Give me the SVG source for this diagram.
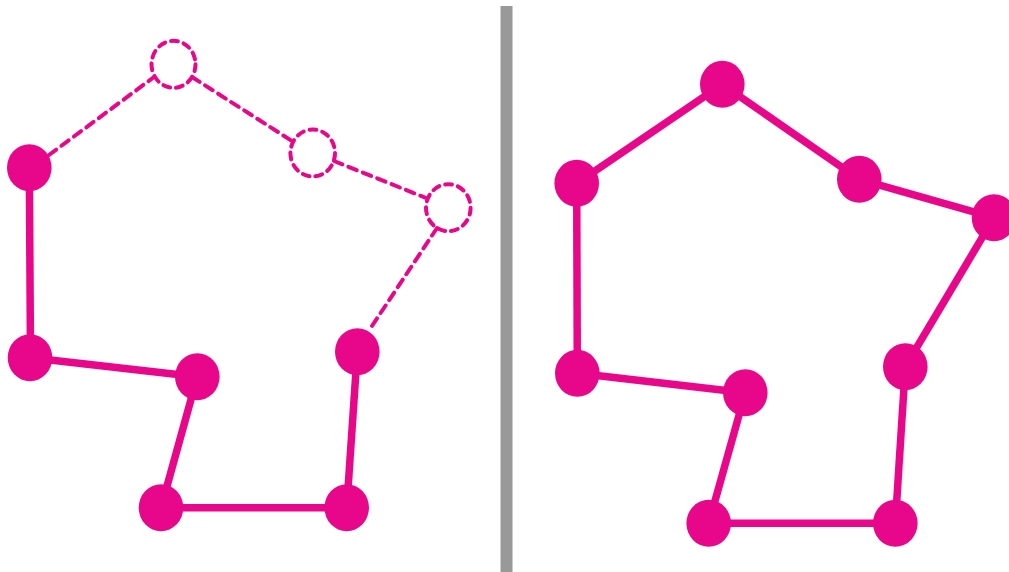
<svg xmlns="http://www.w3.org/2000/svg" width="1009" height="572" viewBox="0 0 1009 572">
  <style>
    .edge { stroke: #e8078b; stroke-width: 7.5; fill: none; stroke-linecap: butt; }
    .dash { stroke: #e8078b; stroke-width: 4; fill: none; stroke-dasharray: 9 6.5; stroke-linecap: round; }
    .node { fill: #e8078b; }
    .ghost { fill: none; stroke: #e8078b; stroke-width: 4; stroke-dasharray: 7 6; stroke-linecap: round; }
    .divider { fill: #999999; }
  </style>
  <rect width="1009" height="572" fill="#ffffff"/>
  <rect class="divider" x="500.5" y="6" width="12" height="566"/>
  <g id="connectors">
    <line class="edge" x1="29.3" y1="167.7" x2="30.5" y2="357.7"/>
    <line class="edge" x1="30.5" y1="357.7" x2="197.3" y2="376.7"/>
    <line class="edge" x1="197.3" y1="376.7" x2="161" y2="507.7"/>
    <line class="edge" x1="161" y1="507.7" x2="346.7" y2="507.7"/>
    <line class="edge" x1="346.7" y1="507.7" x2="357.3" y2="351.7"/>
    <line class="dash" x1="49" y1="155" x2="154" y2="77"/>
    <line class="dash" x1="192" y1="77" x2="292" y2="141"/>
    <line class="dash" x1="334" y1="161" x2="426" y2="198"/>
    <line class="dash" x1="437" y1="228" x2="372" y2="326"/>
    <line class="edge" x1="576.7" y1="183.3" x2="722.3" y2="84.3"/>
    <line class="edge" x1="722.3" y1="84.3" x2="859.3" y2="179.3"/>
    <line class="edge" x1="859.3" y1="179.3" x2="994" y2="217.7"/>
    <line class="edge" x1="994" y1="217.7" x2="905.3" y2="366.7"/>
    <line class="edge" x1="905.3" y1="366.7" x2="895.3" y2="523.3"/>
    <line class="edge" x1="895.3" y1="523.3" x2="708.7" y2="523.3"/>
    <line class="edge" x1="708.7" y1="523.3" x2="745.3" y2="392.7"/>
    <line class="edge" x1="745.3" y1="392.7" x2="577.3" y2="373.3"/>
    <line class="edge" x1="577.3" y1="373.3" x2="576.7" y2="183.3"/>
  </g>
  <g id="L1"><ellipse class="node" cx="29.3" cy="167.7" rx="22.3" ry="23.5"/></g>
  <g id="L2"><ellipse class="ghost" cx="173.5" cy="64.3" rx="22" ry="23.5"/></g>
  <g id="L3"><ellipse class="ghost" cx="312.7" cy="153" rx="22.3" ry="23.5"/></g>
  <g id="L4"><ellipse class="ghost" cx="448.3" cy="207.7" rx="22.3" ry="23.5"/></g>
  <g id="L5"><ellipse class="node" cx="357.3" cy="351.7" rx="22.3" ry="23.5"/></g>
  <g id="L6"><ellipse class="node" cx="346.7" cy="507.7" rx="22.3" ry="23.5"/></g>
  <g id="L7"><ellipse class="node" cx="161" cy="507.7" rx="22.3" ry="23.5"/></g>
  <g id="L8"><ellipse class="node" cx="197.3" cy="376.7" rx="22.3" ry="23.5"/></g>
  <g id="L9"><ellipse class="node" cx="30" cy="357.7" rx="22.3" ry="23.5"/></g>
  <g id="R1"><ellipse class="node" cx="576.7" cy="183.3" rx="22.3" ry="23.5"/></g>
  <g id="R2"><ellipse class="node" cx="722.3" cy="84.3" rx="22.3" ry="23.5"/></g>
  <g id="R3"><ellipse class="node" cx="859.3" cy="179.3" rx="22.3" ry="23.5"/></g>
  <g id="R4"><ellipse class="node" cx="994" cy="217.7" rx="22.3" ry="23.5"/></g>
  <g id="R5"><ellipse class="node" cx="905.3" cy="366.7" rx="22.3" ry="23.5"/></g>
  <g id="R6"><ellipse class="node" cx="895.3" cy="523.3" rx="22.3" ry="23.5"/></g>
  <g id="R7"><ellipse class="node" cx="708.7" cy="523.3" rx="22.3" ry="23.5"/></g>
  <g id="R8"><ellipse class="node" cx="745.3" cy="392.7" rx="22.3" ry="23.5"/></g>
  <g id="R9"><ellipse class="node" cx="577.3" cy="373.3" rx="22.3" ry="23.5"/></g>
</svg>
